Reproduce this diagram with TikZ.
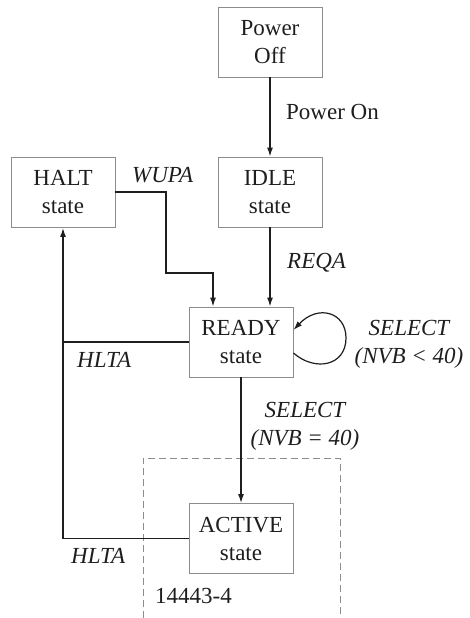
\documentclass[tikz,border=0pt]{standalone}
\usepackage{fontspec}
\setmainfont{Liberation Serif}
\usetikzlibrary{arrows.meta}
\definecolor{boxgray}{HTML}{8C8C8C}
\definecolor{ink}{HTML}{1E1E1E}
\tikzset{
  statebox/.style={draw=boxgray, line width=0.9pt, minimum width=104pt, minimum height=70pt,
    inner sep=0pt, align=center, text=ink, font=\fontsize{23}{28}\selectfont},
  conn/.style={draw=ink, line width=1.3pt},
  arr/.style={conn, -{Latex[length=9pt,width=6pt]}},
  lbl/.style={text=ink, inner sep=0pt, anchor=base west, font=\fontsize{23}{28}\selectfont\itshape},
  lblc/.style={text=ink, inner sep=0pt, anchor=base, font=\fontsize{23}{28}\selectfont\itshape},
  plain/.style={text=ink, inner sep=0pt, anchor=base west, font=\fontsize{23}{28}\selectfont},
  region/.style={draw=boxgray, line width=0.9pt, dash pattern=on 7pt off 4pt}
}
\begin{document}
\begin{tikzpicture}[x=1pt,y=-1pt]
\useasboundingbox (0,0) rectangle (469,618);
% dashed region
\coordinate (r1) at (143,618);
\coordinate (r2) at (143,458);
\coordinate (r3) at (340,458);
\coordinate (r4) at (340,618);
\draw[region] (r1) -- (r2) -- (r3) -- (r4);
% states
\node[statebox] (poweroff) at (270,42) {Power\\Off};
\node[statebox] (idle) at (270,192) {IDLE\\state};
\node[statebox] (halt) at (63,192.5) {HALT\\state};
\node[statebox] (ready) at (241,342) {READY\\state};
\node[statebox] (active) at (241,538.5) {ACTIVE\\state};
% connectors
\draw[arr] (poweroff.south) -- (idle.north);
\draw[arr] (idle.south) -- (idle.south |- ready.north);
\coordinate (w1) at (166,192);
\coordinate (w2) at (166,273);
\coordinate (w3) at (213,273);
\draw[arr] (halt.east |- w1) -- (w1) -- (w2) -- (w3) -- (w3 |- ready.north);
\draw[arr] (ready.south) -- (active.north);
\draw[arr] (active.west) -| (halt.south);
\draw[conn] (ready.west) -- (ready.west -| halt.south);
\coordinate (loopR) at (346,338);
\draw[arr, line width=1.2pt] ([yshift=-11pt]ready.east) .. controls (315,372) and (346,366) .. (loopR) .. controls (346,312) and (318,304) .. ([yshift=12pt]ready.east);
% labels
\node[plain] (lpon) at (286,119) {Power On};
\node[lbl] (lwupa) at (132,182) {WUPA};
\node[lbl] (lreqa) at (287,268) {REQA};
\node[lbl] (lhlta1) at (77,367) {HLTA};
\node[lblc] (lsel1) at (409,335) {SELECT};
\node[lblc] (lnvb1) at (409,363) {(NVB < 40)};
\node[lblc] (lsel2) at (305,417) {SELECT};
\node[lblc] (lnvb2) at (305,445) {(NVB = 40)};
\node[lbl] (lhlta2) at (71,563) {HLTA};
\node[plain] (lstd) at (155,603) {14443-4};
\end{tikzpicture}
\end{document}
